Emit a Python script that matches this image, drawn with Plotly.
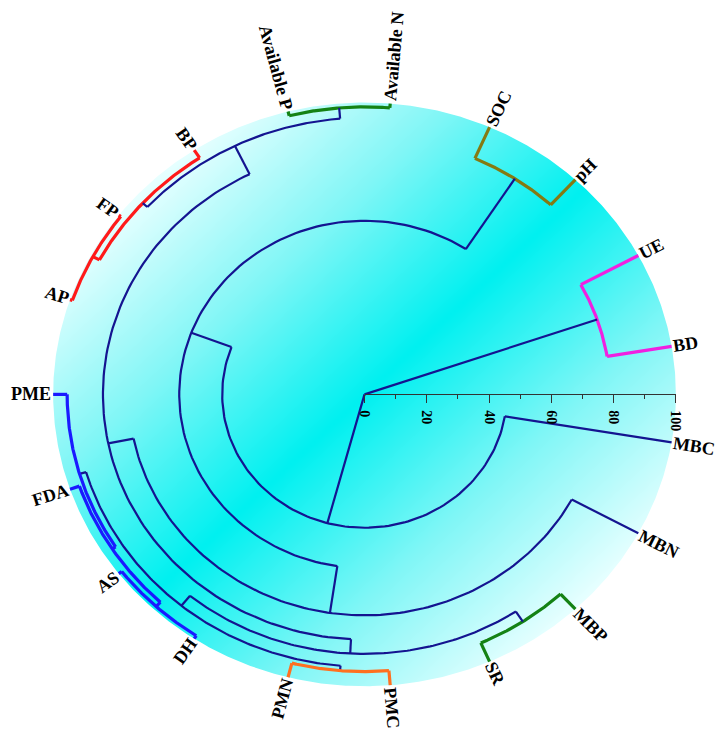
import numpy as np
import plotly.graph_objects as go

# leaves in dendrogram order, clockwise starting from UE
LEAVES = ["UE", "BD", "MBC", "MBN", "MBP", "SR", "PMC", "PMN", "DH", "AS",
          "FDA", "PME", "AP", "FP", "BP", "Available P", "Available N", "SOC", "pH"]

# merges: node name, left child, right child, merge level (0 = centre, 100 = rim)
NODE_NAMES = ["ue_bd", "soc_ph", "fp_ap", "red", "avail", "y", "mbp_sr", "pm",
              "dh_as", "s", "t", "v", "w", "r4", "r3", "r2", "r1", "root"]
NODE_LEFT = ["UE", "SOC", "AP", "fp_ap", "Available P", "red", "MBP", "PMC",
             "DH", "dh_as", "s", "pm", "mbp_sr", "w", "MBN", "r3", "MBC", "ue_bd"]
NODE_RIGHT = ["BD", "pH", "FP", "BP", "Available N", "avail", "SR", "PMN",
              "AS", "FDA", "PME", "t", "v", "y", "r4", "soc_ph", "r2", "r1"]
NODE_LEVEL = [79.0, 88.3, 99.2, 96.8, 98.5, 94.8, 93.0, 95.0,
              98.8, 96.8, 95.5, 93.3, 88.9, 84.0, 75.7, 59.5, 45.7, 0.0]

CLUSTER_ROOTS = ["ue_bd", "soc_ph", "red", "avail", "mbp_sr", "pm", "t"]
CLUSTER_COLORS = ["#f020e0", "#857a12", "#ff1a1a", "#148214", "#148214", "#ff7020", "#1a1aff"]
NAVY = "#141490"

AXIS_TICKS = [0, 20, 40, 60, 80, 100]

# screen geometry: the plot is drawn as a slightly wide ellipse
PX_X, PX_Y = 315.0, 291.8
X_RANGE = [-1.1, 1.1]
Y_RANGE = [-1.15, 1.3]
FONT = "Liberation Serif"
LABEL_SIZE = 18

# Times bold advance widths (em) for the label text
CHAR_W = {"A": .722, "B": .667, "C": .722, "D": .722, "E": .667, "F": .611, "H": .778,
          "M": .944, "N": .722, "O": .778, "P": .611, "R": .722, "S": .556, "U": .722,
          "a": .5, "b": .556, "e": .444, "i": .278, "l": .278, "p": .556, "v": .5, " ": .25}

# ---- tree geometry ----
angle = {leaf: (3 - 2 * i) * 180.0 / len(LEAVES) for i, leaf in enumerate(LEAVES)}
radius = {leaf: 1.0 for leaf in LEAVES}
children = {}
for name, l, r, h in zip(NODE_NAMES, NODE_LEFT, NODE_RIGHT, NODE_LEVEL):
    angle[name] = (angle[l] + angle[r]) / 2
    radius[name] = h / 100.0
    children[name] = (l, r)

color_of = {}


def paint(n, c):
    color_of[n] = c
    for ch in children.get(n, ()):
        paint(ch, c)


for root, c in zip(CLUSTER_ROOTS, CLUSTER_COLORS):
    paint(root, c)

segs = {}


def add(color, xs, ys):
    sx, sy = segs.setdefault(color, ([], []))
    sx.extend(list(xs) + [None])
    sy.extend(list(ys) + [None])


for name in NODE_NAMES:
    c = color_of.get(name, NAVY)
    h = radius[name]
    l, r = children[name]
    a = np.radians(np.linspace(angle[l], angle[r], 120))
    add(c, h * np.cos(a), h * np.sin(a))
    for ch in (l, r):
        t = np.radians(angle[ch])
        add(c, [h * np.cos(t), radius[ch] * np.cos(t)], [h * np.sin(t), radius[ch] * np.sin(t)])

fig = go.Figure()

# background disc with diagonal cyan gradient
g = np.linspace(-1.0, 1.0, 161)
gx, gy = np.meshgrid(g, g)
fig.add_trace(go.Heatmap(
    x=g, y=g, z=np.abs(gx - gy) / np.sqrt(2), zmin=0, zmax=1, zsmooth="best",
    colorscale=[[0, "#00f0f0"], [0.5, "#80f6f6"], [1, "#e8ffff"]],
    showscale=False, hoverinfo="skip",
))
th = np.linspace(0, 2 * np.pi, 721)
mx = list(np.cos(th)) + [1.0, 1.1, 1.1, -1.1, -1.1, 1.1, 1.1, 1.0]
my = list(np.sin(th)) + [0.0, 0.0, Y_RANGE[0], Y_RANGE[0], Y_RANGE[1], Y_RANGE[1], 0.0, 0.0]
fig.add_trace(go.Scatter(x=mx, y=my, mode="lines", fill="toself", fillcolor="white",
                         line=dict(width=0, color="white"), hoverinfo="skip", showlegend=False))

for c, (xs, ys) in segs.items():
    fig.add_trace(go.Scatter(
        x=xs, y=ys, mode="lines", hoverinfo="skip", showlegend=False,
        line=dict(color=c, width=2.2 if c == NAVY else 3.2),
    ))

# leaf labels, radial
for leaf in LEAVES:
    a = np.radians(angle[leaf])
    ux, uy = PX_X * np.cos(a), -PX_Y * np.sin(a)
    n = np.hypot(ux, uy)
    ux, uy = ux / n, uy / n
    w = sum(CHAR_W.get(ch, 0.6) for ch in leaf) * LABEL_SIZE
    off = 2 + w / 2
    rot = np.degrees(np.arctan2(uy, ux))
    if np.cos(a) < 0:
        rot = (rot + 360) % 360 - 180
    fig.add_annotation(
        x=np.cos(a) + ux * off / PX_X, y=np.sin(a) - uy * off / PX_Y,
        text=leaf, showarrow=False, textangle=rot, xanchor="center", yanchor="middle",
        font=dict(family=FONT, size=LABEL_SIZE, color="black", weight="bold"),
    )

# radial scale drawn as a free x axis from the centre to the rim
fig.add_trace(go.Scatter(x=[0, 100], y=[0, 0], xaxis="x2", yaxis="y", mode="markers",
                         marker=dict(opacity=0), hoverinfo="skip", showlegend=False))

x0f = (0 - X_RANGE[0]) / (X_RANGE[1] - X_RANGE[0])
x1f = (1 - X_RANGE[0]) / (X_RANGE[1] - X_RANGE[0])
yf = (0 - Y_RANGE[0]) / (Y_RANGE[1] - Y_RANGE[0])

# page body has an 8px margin, so the figure is a bit smaller than the window
fig.update_layout(
    width=717, height=731,
    margin=dict(l=6, r=18, t=7, b=9),
    paper_bgcolor="white", plot_bgcolor="rgba(0,0,0,0)",
    showlegend=False,
    xaxis=dict(range=X_RANGE, visible=False, fixedrange=True),
    yaxis=dict(range=Y_RANGE, visible=False, fixedrange=True),
    xaxis2=dict(
        domain=[x0f, x1f], anchor="free", position=yf, range=[0, 100],
        showline=True, linecolor="#333333", linewidth=1, showgrid=False, zeroline=False,
        ticks="outside", ticklen=8, tickwidth=1, tickcolor="#333333",
        tickvals=AXIS_TICKS, tickangle=90, ticklabelstandoff=4,
        tickfont=dict(family=FONT, size=14, color="black", weight="bold"),
        minor=dict(tickvals=[10, 30, 50, 70, 90], ticks="outside", ticklen=4, tickcolor="#333333"),
        fixedrange=True,
    ),
)

fig.write_html("out.html")
